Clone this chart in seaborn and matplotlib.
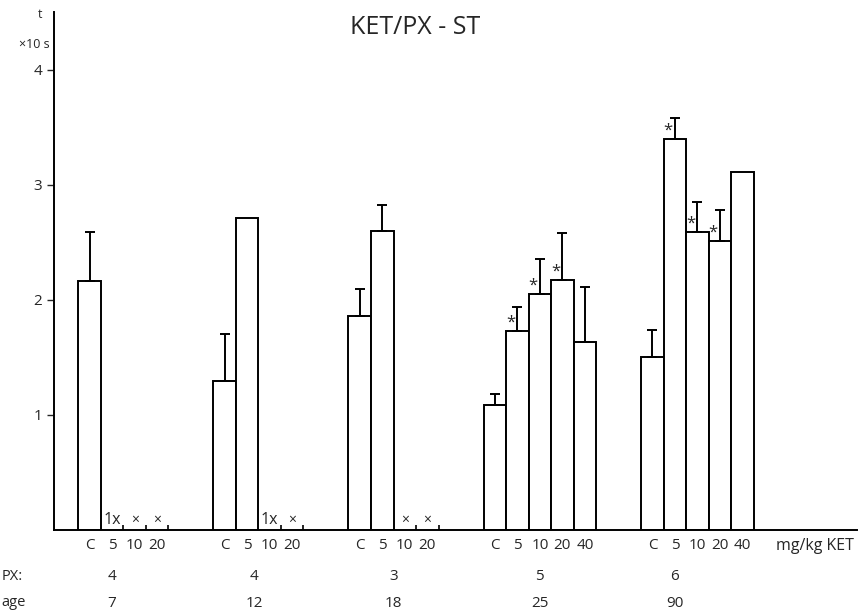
import pandas as pd
import seaborn as sns
import matplotlib.pyplot as plt

# valores (t en x10 s), C = control
dose_labels = [
    ["C", "5", "10", "20"],
    ["C", "5", "10", "20"],
    ["C", "5", "10", "20"],
    ["C", "5", "10", "20", "40"],
    ["C", "5", "10", "20", "40"],
]
means = [
    [2.16, 0, 0, 0],
    [1.29, 2.71, 0, 0],
    [1.86, 2.60, 0, 0],
    [1.09, 1.73, 2.05, 2.17, 1.63],
    [1.50, 3.40, 2.59, 2.51, 3.11],
]
sems = [
    [0.43, 0, 0, 0],
    [0.41, 0, 0, 0],
    [0.23, 0.22, 0, 0],
    [0.09, 0.21, 0.30, 0.41, 0.48],
    [0.24, 0.18, 0.26, 0.27, 0],
]
stars = [
    [0, 0, 0, 0],
    [0, 0, 0, 0],
    [0, 0, 0, 0],
    [0, 1, 1, 1, 0],
    [0, 1, 1, 1, 0],
]
# marcas para las dosis sin barra (animales muertos)
dead_marks = [
    ["", "1x", "×", "×"],
    ["", "", "1x", "×"],
    ["", "", "×", "×"],
    ["", "", "", "", ""],
    ["", "", "", "", ""],
]
px_days = [4, 4, 3, 5, 6]
age_days = [7, 12, 18, 25, 90]

group_starts = [0, 6, 12, 18, 25]
label_pos = [1, 7.3, 13.5, 20, 26]

sns.set_style("ticks")
plt.rcParams["font.family"] = ["Open Sans", "DejaVu Sans"]

rows = []
for g, start in enumerate(group_starts):
    for i, dose in enumerate(dose_labels[g]):
        rows.append({"pos": start + i, "dose": dose, "mean": means[g][i],
                     "sem": sems[g][i], "star": stars[g][i], "mark": dead_marks[g][i]})
df = pd.DataFrame(rows)
alive = df[df["mean"] > 0]

fig = plt.figure(figsize=(8.62, 6.16), dpi=100)
ax = fig.add_axes([0.0626, 0.1396, 0.932, 0.841])

sns.barplot(data=alive, x="pos", y="mean", native_scale=True, width=1.0,
            color="white", edgecolor="black", linewidth=1.4, errorbar=None, ax=ax)

err = alive[alive["sem"] > 0]
ax.errorbar(err["pos"], err["mean"], yerr=[[0] * len(err), err["sem"]], fmt="none",
            ecolor="black", elinewidth=1.4, capsize=3.5, capthick=1.4)

for _, r in alive[alive["star"] == 1].iterrows():
    ax.text(r["pos"] - 0.3, r["mean"] + 0.07, "*", ha="center", va="center", fontsize=12)

for _, r in df[df["mark"] != ""].iterrows():
    fs = 11.5 if r["mark"] == "1x" else 10
    ax.text(r["pos"], 0.015, r["mark"], ha="center", va="bottom", fontsize=fs)
    ax.vlines(r["pos"] + 0.5, 0, 0.04, color="black", lw=1.2)

ax.set_xlim(-1.58, 34.1)
ax.set_ylim(0, 4.5)
ax.set_yticks([1, 2, 3, 4])
ax.set_xticks(df["pos"])
ax.set_xticklabels(df["dose"])
ax.tick_params(axis="x", length=0, pad=6, labelsize=11)
ax.tick_params(axis="y", length=5, width=1, direction="out", labelsize=11)
ax.set_xlabel("")
ax.set_ylabel("")
sns.despine(ax=ax)
for s in ["left", "bottom"]:
    ax.spines[s].set_color("black")
    ax.spines[s].set_linewidth(1.4)

tr = ax.get_xaxis_transform()
for x, px, age in zip(label_pos, px_days, age_days):
    ax.text(x, -0.0907, str(px), transform=tr, ha="center", va="center", fontsize=11)
    ax.text(x, -0.141, str(age), transform=tr, ha="center", va="center", fontsize=11)
ax.text(32.2, -0.03, "mg/kg KET", transform=tr, ha="center", va="center", fontsize=11.5)

fig.text(0.002, 1 - 577 / 616, "PX:", ha="left", va="center", fontsize=10.5)
fig.text(0.002, 1 - 603 / 616, "age", ha="left", va="center", fontsize=10.5)
fig.text(40 / 862, 1 - 15 / 616, "t", ha="center", va="center", fontsize=9)
fig.text(34 / 862, 1 - 45 / 616, "×10 s", ha="center", va="center", fontsize=9)
fig.text(415 / 862, 1 - 28 / 616, "KET/PX - ST", ha="center", va="center", fontsize=18)

fig.savefig("out.png", dpi=100)
